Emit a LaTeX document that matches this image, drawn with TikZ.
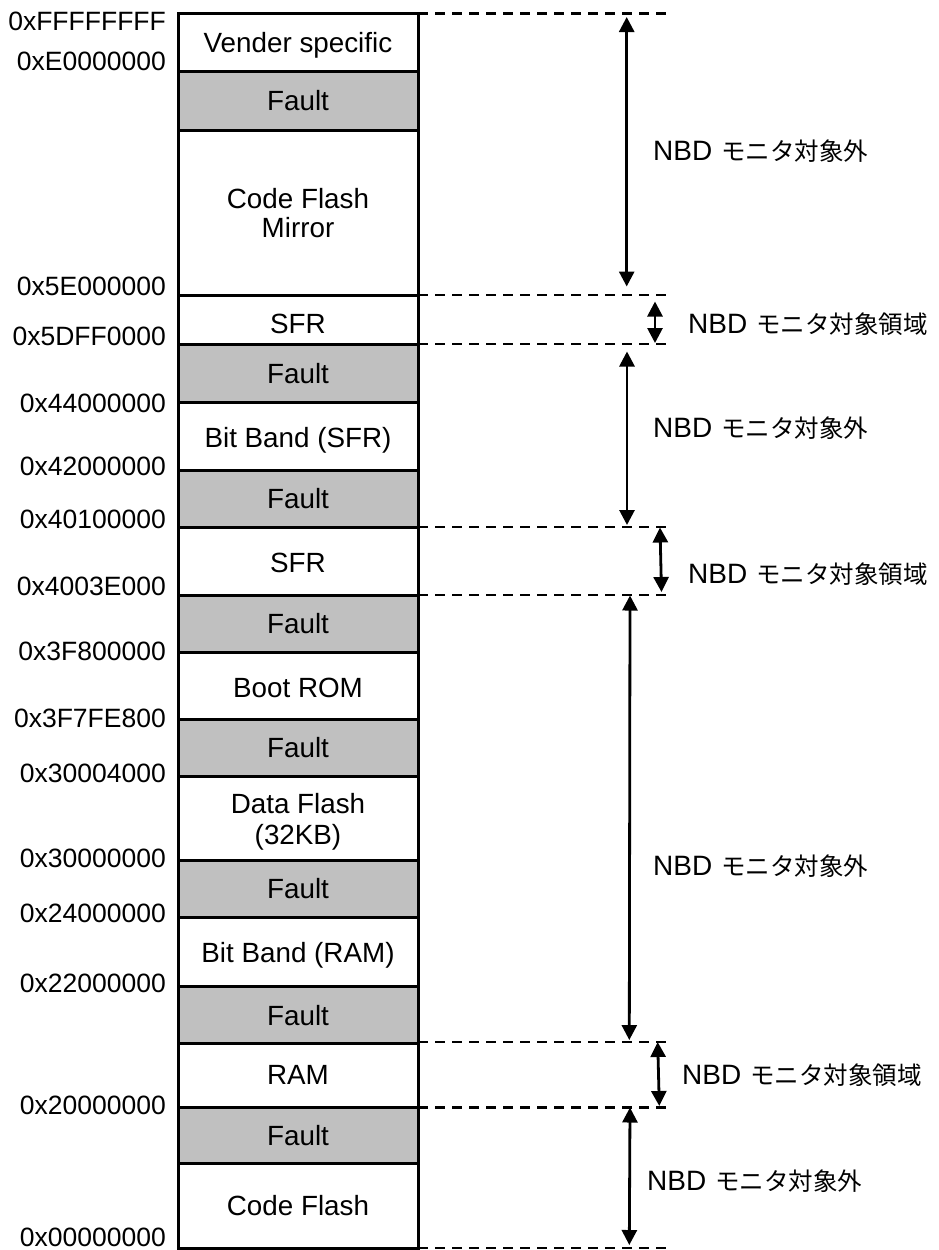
\documentclass[tikz,border=0pt]{standalone}
\usepackage{fontspec}
\setmainfont{Liberation Sans}
\newfontfamily\jpfont{Noto Sans CJK JP}
\usetikzlibrary{arrows.meta}
\definecolor{faultgray}{RGB}{192,192,192}
\newcommand{\jp}[1]{{\jpfont\fontsize{24.5}{30}\selectfont #1}}
\begin{document}
\begin{tikzpicture}[x=1pt,y=-1pt,
  region/.style={draw=black,line width=3pt},
  blank/.style={region,fill=white},
  fault/.style={region,fill=faultgray},
  boxtext/.style={anchor=base,inner sep=0pt,font=\fontsize{27.8}{30}\selectfont},
  addr/.style={anchor=base east,inner sep=0pt,font=\fontsize{26.5}{30}\selectfont},
  note/.style={anchor=base west,inner sep=0pt,font=\fontsize{28}{32}\selectfont},
  guide/.style={line width=2.6pt,dash pattern=on 9.5pt off 7.5pt},
  span/.style={line width=2.8pt,{Triangle[width=15pt,length=15pt]}-{Triangle[width=15pt,length=15pt]}},
]
\useasboundingbox (0,0) rectangle (939,1250);

% memory regions, top to bottom
\foreach \t/\b/\s in {13.5/71/blank, 71/130/fault, 130/295/blank, 295/344/blank,
  344/402/fault, 402/470/blank, 470/527/fault, 527/595/blank, 595/652/fault,
  652/719/blank, 719/776/fault, 776/860/blank, 860/917/fault, 917/986/blank,
  986/1043/fault, 1043/1107/blank, 1107/1163/fault, 1163/1248/blank}
  \draw[\s] (178,\t) rectangle (418,\b);

% region names
\node[boxtext] (vend)   at (298,52)   {Vender specific};
\node[boxtext] (f1)     at (298,110)  {Fault};
\node[boxtext] (cfm1)   at (298,208)  {Code Flash};
\node[boxtext] (cfm2)   at (298,237)  {Mirror};
\node[boxtext] (sfr1)   at (298,333)  {SFR};
\node[boxtext] (f2)     at (298,383)  {Fault};
\node[boxtext] (bbsfr)  at (298,447)  {Bit Band (SFR)};
\node[boxtext] (f3)     at (298,508)  {Fault};
\node[boxtext] (sfr2)   at (298,572)  {SFR};
\node[boxtext] (f4)     at (298,633)  {Fault};
\node[boxtext] (brom)   at (298,697)  {Boot ROM};
\node[boxtext] (f5)     at (298,757)  {Fault};
\node[boxtext] (df1)    at (298,813)  {Data Flash};
\node[boxtext] (df2)    at (298,844)  {(32KB)};
\node[boxtext] (f6)     at (298,898)  {Fault};
\node[boxtext] (bbram)  at (298,962)  {Bit Band (RAM)};
\node[boxtext] (f7)     at (298,1025) {Fault};
\node[boxtext] (ram)    at (298,1084) {RAM};
\node[boxtext] (f8)     at (298,1145) {Fault};
\node[boxtext] (cf)     at (298,1215) {Code Flash};

% addresses
\node[addr] (ad1)  at (166,30.7) {0xFFFFFFFF};
\node[addr] (ad2)  at (166,70)   {0xE0000000};
\node[addr] (ad3)  at (166,295)  {0x5E000000};
\node[addr] (ad4)  at (166,345)  {0x5DFF0000};
\node[addr] (ad5)  at (166,412)  {0x44000000};
\node[addr] (ad6)  at (166,475)  {0x42000000};
\node[addr] (ad7)  at (166,528)  {0x40100000};
\node[addr] (ad8)  at (166,595)  {0x4003E000};
\node[addr] (ad9)  at (166,660)  {0x3F800000};
\node[addr] (ad10) at (166,727)  {0x3F7FE800};
\node[addr] (ad11) at (166,782)  {0x30004000};
\node[addr] (ad12) at (166,867)  {0x30000000};
\node[addr] (ad13) at (166,922)  {0x24000000};
\node[addr] (ad14) at (166,992)  {0x22000000};
\node[addr] (ad15) at (166,1114) {0x20000000};
\node[addr] (ad16) at (166,1246) {0x00000000};

% dashed boundary guides
\foreach \y in {13.5,295,344,527,595,1042,1107.5,1248}
  \draw[guide] (418,\y) -- (668,\y);

% span arrows
\coordinate (a1t) at (626.7,17);    \coordinate (a1b) at (626.7,286.5);
\coordinate (a2t) at (655,301.5);   \coordinate (a2b) at (655,343);
\coordinate (a3t) at (627,351.5);   \coordinate (a3b) at (627,525);
\coordinate (a4t) at (660,527.5);   \coordinate (a4b) at (661.5,592);
\coordinate (a5t) at (630,595.5);   \coordinate (a5b) at (629.3,1040);
\coordinate (a6t) at (657.7,1042);  \coordinate (a6b) at (659.3,1106);
\coordinate (a7t) at (630,1107.5);  \coordinate (a7b) at (629.3,1245);
\draw[span] (a1t) -- (a1b);
\draw[span] (a2t) -- (a2b);
\draw[span] (a3t) -- (a3b);
\draw[span] (a4t) -- (a4b);
\draw[span] (a5t) -- (a5b);
\draw[span] (a6t) -- (a6b);
\draw[span] (a7t) -- (a7b);

% monitoring notes
\node[note] (n1) at (653,160)  {NBD\hspace{9pt}\jp{モニタ対象外}};
\node[note] (n2) at (688,333)  {NBD\hspace{9pt}\jp{モニタ対象領域}};
\node[note] (n3) at (653,437)  {NBD\hspace{9pt}\jp{モニタ対象外}};
\node[note] (n4) at (688,583)  {NBD\hspace{9pt}\jp{モニタ対象領域}};
\node[note] (n5) at (653,875)  {NBD\hspace{9pt}\jp{モニタ対象外}};
\node[note] (n6) at (682,1084) {NBD\hspace{9pt}\jp{モニタ対象領域}};
\node[note] (n7) at (647,1190) {NBD\hspace{9pt}\jp{モニタ対象外}};
\end{tikzpicture}
\end{document}
